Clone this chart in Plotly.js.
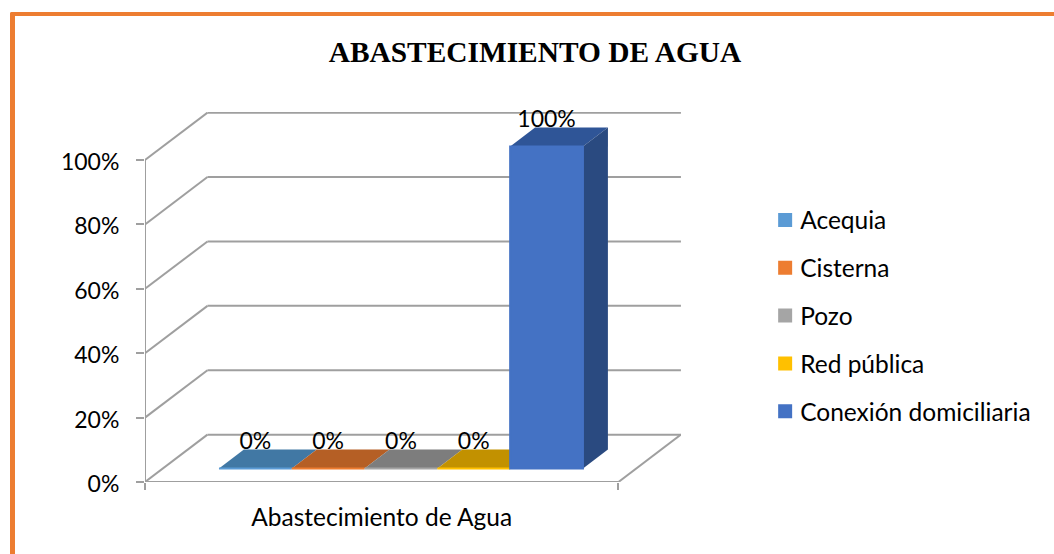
<!DOCTYPE html>
<html>
<head>
<meta charset="utf-8">
<script src="https://cdn.plot.ly/plotly-3.0.1.min.js"></script>
<style>
  body { margin: 0; background: #fff; overflow: hidden; }
  #marco { position: absolute; left: 10px; top: 12px; right: 0; bottom: 0; border-left: 5px solid #ed7d31; border-top: 4px solid #ed7d31; border-top-left-radius: 2px; pointer-events: none; }
  #grafico { position: absolute; left: 0; top: 0; width: 1054px; height: 554px; }
</style>
</head>
<body>
<div id="grafico"></div>
<div id="marco"></div>
<script>
const categoria = "Abastecimiento de Agua";
const series = ["Acequia", "Cisterna", "Pozo", "Red pública", "Conexión domiciliaria"];
const valores = [0, 0, 0, 0, 100];
const ticksY = [0, 20, 40, 60, 80, 100];

const coloresFrente = ["#5b9bd5", "#ed7d31", "#a5a5a5", "#ffc000", "#4472c4"];
const coloresTapa = ["#4178a4", "#b55f25", "#7d7d7d", "#c29100", "#2f5597"];
const coloresLado = ["#3a6c94", "#a35521", "#707070", "#ae8300", "#2a4a80"];

// falso 3D: x en anchos de barra, y en %
const colorLinea = "#9f9f9f";
const anchoX = 6.504;      // ancho del plano frontal
const fondoX = 0.858;      // desplazamiento de la pared del fondo
const fondoY = 14.7;
const inicioBarras = 1.016;
const baseBarra = 4.16;    // la barra esta adelantada sobre el piso
const prof = { x: 0.343, y: 5.9 };

function segmento(x0, y0, x1, y1) {
   return { type: "line", layer: "below", xref: "x", yref: "y", x0: x0, y0: y0, x1: x1, y1: y1,
            line: { color: colorLinea, width: 2 } };
}

function cara(puntos, color) {
   var d = puntos.map(function (p, i) { return (i ? "L" : "M") + p[0] + "," + p[1]; }).join(" ") + " Z";
   return { type: "path", layer: "below", xref: "x", yref: "y", path: d, fillcolor: color, line: { width: 0 } };
}

var formas = [];
ticksY.forEach(function (t) {
   formas.push(segmento(0, t, fondoX, t + fondoY));
   formas.push(segmento(fondoX, t + fondoY, anchoX + fondoX, t + fondoY));
});
formas.push(segmento(0, 0, 0, 100));
formas.push(segmento(0, 0, anchoX, 0));
formas.push(segmento(anchoX, 0, anchoX + fondoX, fondoY));

var trazas = [];
series.forEach(function (nombre, i) {
   var x0 = inicioBarras + i, x1 = x0 + 1, abajo = baseBarra, arriba = baseBarra + valores[i];
   formas.push(cara([[x0, arriba], [x1, arriba], [x1 + prof.x, arriba + prof.y], [x0 + prof.x, arriba + prof.y]], coloresTapa[i]));
   formas.push(cara([[x1, abajo], [x1 + prof.x, abajo + prof.y], [x1 + prof.x, arriba + prof.y], [x1, arriba]], coloresLado[i]));
   trazas.push({
      type: "bar",
      name: nombre,
      legendgroup: nombre,
      x: [x0 + 0.5],
      y: [valores[i]],
      base: [baseBarra],
      width: [1],
      marker: { color: coloresFrente[i], line: { color: coloresFrente[i], width: 2 } },
      hoverinfo: "name+y",
   });
});

trazas.push({
   type: "scatter",
   mode: "text",
   x: valores.map(function (v, i) { return inicioBarras + i + 0.5; }),
   y: valores.map(function (v) { return v + baseBarra + 8; }),
   text: valores.map(function (v) { return v + "%"; }),
   textposition: "middle center",
   textfont: { family: "Lato", size: 23, color: "#000" },
   cliponaxis: false,
   showlegend: false,
   hoverinfo: "skip",
});

var layout = {
   width: 1054,
   height: 554,
   autosize: false,
   margin: { l: 145, r: 373, t: 112, b: 72 },
   paper_bgcolor: "rgba(0,0,0,0)",
   plot_bgcolor: "rgba(0,0,0,0)",
   barmode: "overlay",
   font: { family: "Lato", size: 24.5, color: "#000" },
   title: {
      text: "<b>ABASTECIMIENTO DE AGUA</b>",
      font: { family: "Liberation Serif", size: 29.4, color: "#000" },
      x: 535 / 1054,
      xanchor: "center",
      y: 1 - 52 / 554,
      yanchor: "middle",
   },
   xaxis: {
      range: [0, 7.363],
      showgrid: false,
      zeroline: false,
      showline: false,
      tickvals: [anchoX / 2],
      ticktext: [categoria],
      ticks: "",
      ticklabelstandoff: 18,
      minor: { tickvals: [0, anchoX], ticks: "outside", ticklen: 7, tickwidth: 2, tickcolor: colorLinea, showgrid: false },
   },
   yaxis: {
      range: [0, 114.9],
      showgrid: false,
      zeroline: false,
      showline: false,
      tickvals: ticksY,
      ticktext: ticksY.map(function (t) { return t + "%"; }),
      tickfont: { family: "Lato", size: 23, color: "#000" },
      ticks: "outside",
      ticklen: 8,
      tickwidth: 2,
      tickcolor: colorLinea,
      ticklabelstandoff: 12,
      ticklabelshift: 2,
   },
   legend: {
      x: 1.157,
      xanchor: "left",
      y: 0.769,
      yanchor: "top",
      traceorder: "grouped",
      tracegroupgap: 13,
      font: { family: "Lato", size: 24.5, color: "#000" },
   },
   shapes: formas,
};

Plotly.newPlot("grafico", trazas, layout, { displayModeBar: false, responsive: false }).then(function () {
   // acerca el texto de la leyenda al cuadrito
   document.querySelectorAll("#grafico .legendtext").forEach(function (t) {
      t.setAttribute("x", parseFloat(t.getAttribute("x")) - 5);
   });
});
</script>
</body>
</html>
